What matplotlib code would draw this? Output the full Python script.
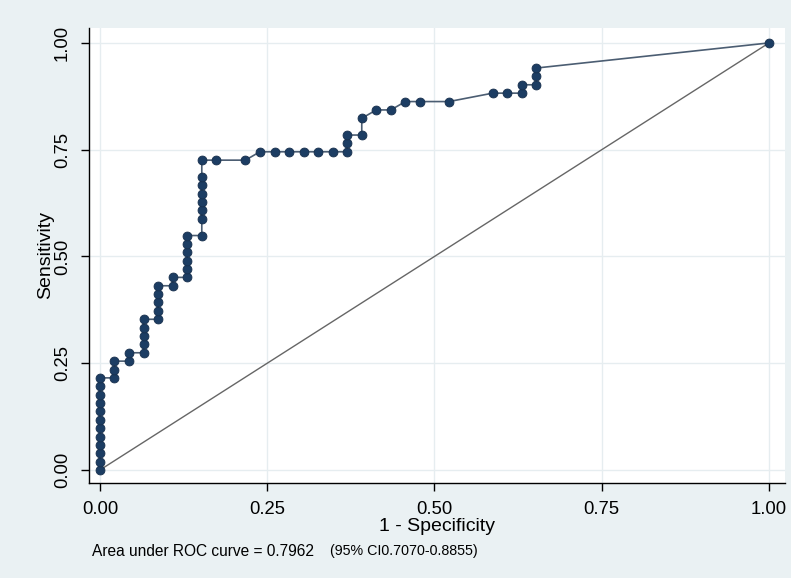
import numpy as np
import matplotlib
matplotlib.use('Agg')
import matplotlib.pyplot as plt

# ROC points (1 - specificity, sensitivity)
fpr = [0.0, 0.0, 0.0, 0.0, 0.0, 0.0, 0.0, 0.0, 0.0, 0.0, 0.0, 0.0,
       0.0217, 0.0217, 0.0217,
       0.0435, 0.0435,
       0.0652, 0.0652, 0.0652, 0.0652, 0.0652,
       0.0870, 0.0870, 0.0870, 0.0870, 0.0870,
       0.1087, 0.1087,
       0.1304, 0.1304, 0.1304, 0.1304, 0.1304, 0.1304,
       0.1522, 0.1522, 0.1522, 0.1522, 0.1522, 0.1522, 0.1522, 0.1522,
       0.1739, 0.2174,
       0.2391, 0.2609, 0.2826, 0.3043, 0.3261, 0.3478,
       0.3696, 0.3696, 0.3696,
       0.3913, 0.3913,
       0.4130, 0.4348,
       0.4565, 0.4783, 0.5217,
       0.5870, 0.6087,
       0.6304, 0.6304,
       0.6522, 0.6522, 0.6522,
       1.0]
sens = [0.0, 0.0196, 0.0392, 0.0588, 0.0784, 0.0980, 0.1176, 0.1373, 0.1569, 0.1765, 0.1961, 0.2157,
        0.2157, 0.2353, 0.2549,
        0.2549, 0.2745,
        0.2745, 0.2941, 0.3137, 0.3333, 0.3529,
        0.3529, 0.3725, 0.3922, 0.4118, 0.4314,
        0.4314, 0.4510,
        0.4510, 0.4706, 0.4902, 0.5098, 0.5294, 0.5490,
        0.5490, 0.5882, 0.6078, 0.6275, 0.6471, 0.6667, 0.6863, 0.7255,
        0.7255, 0.7255,
        0.7451, 0.7451, 0.7451, 0.7451, 0.7451, 0.7451,
        0.7451, 0.7647, 0.7843,
        0.7843, 0.8235,
        0.8431, 0.8431,
        0.8627, 0.8627, 0.8627,
        0.8824, 0.8824,
        0.8824, 0.9020,
        0.9020, 0.9216, 0.9412,
        1.0]
ticks = [0.0, 0.25, 0.5, 0.75, 1.0]
tick_labels = ['0.00', '0.25', '0.50', '0.75', '1.00']
auc_text = 'Area under ROC curve = 0.7962'
ci_text = '(95% CI0.7070-0.8855)'

plt.rcParams['font.family'] = ['Liberation Sans', 'DejaVu Sans']

BG = '#eaf1f3'
NAVY = '#1c3d63'

fig = plt.figure(figsize=(7.91, 5.78), dpi=100, facecolor=BG)
ax = fig.add_axes([0.1125, 0.1644, 0.88, 0.7872])
ax.set_facecolor('white')

# diagonal reference line
ax.plot([0, 1], [0, 1], color='#666666', lw=1.0, zorder=2)
ax.plot(fpr, sens, color='#4b5d72', lw=1.2, zorder=3,
        marker='o', ms=6.4, mfc=NAVY, mec='#172f4c', mew=0.6)

ax.set_xlim(-0.0164, 1.024)
ax.set_ylim(-0.0304, 1.035)
ax.set_xticks(ticks)
ax.set_xticklabels(tick_labels)
ax.set_yticks(ticks)
ax.set_yticklabels(tick_labels, rotation=90, va='center')
ax.grid(True, color='#e6edf0', lw=1.0, zorder=0)
ax.set_axisbelow(True)

for s in ['top', 'right']:
    ax.spines[s].set_visible(False)
for s in ['left', 'bottom']:
    ax.spines[s].set_color('black')
    ax.spines[s].set_linewidth(1.0)
ax.tick_params(axis='both', length=6, width=1.0, color='black', labelsize=13.3, pad=7)

ax.set_xlabel('1 - Specificity', fontsize=14, labelpad=0)
ax.set_ylabel('Sensitivity', fontsize=14, labelpad=0)

fig.text(92 / 791, 1 - 551 / 578, auc_text, fontsize=11.2, va='center', ha='left')
fig.text(330 / 791, 1 - 551 / 578, ci_text, fontsize=10.3, va='center', ha='left')

fig.savefig('out.png', dpi=100, facecolor=BG)
plt.close(fig)
